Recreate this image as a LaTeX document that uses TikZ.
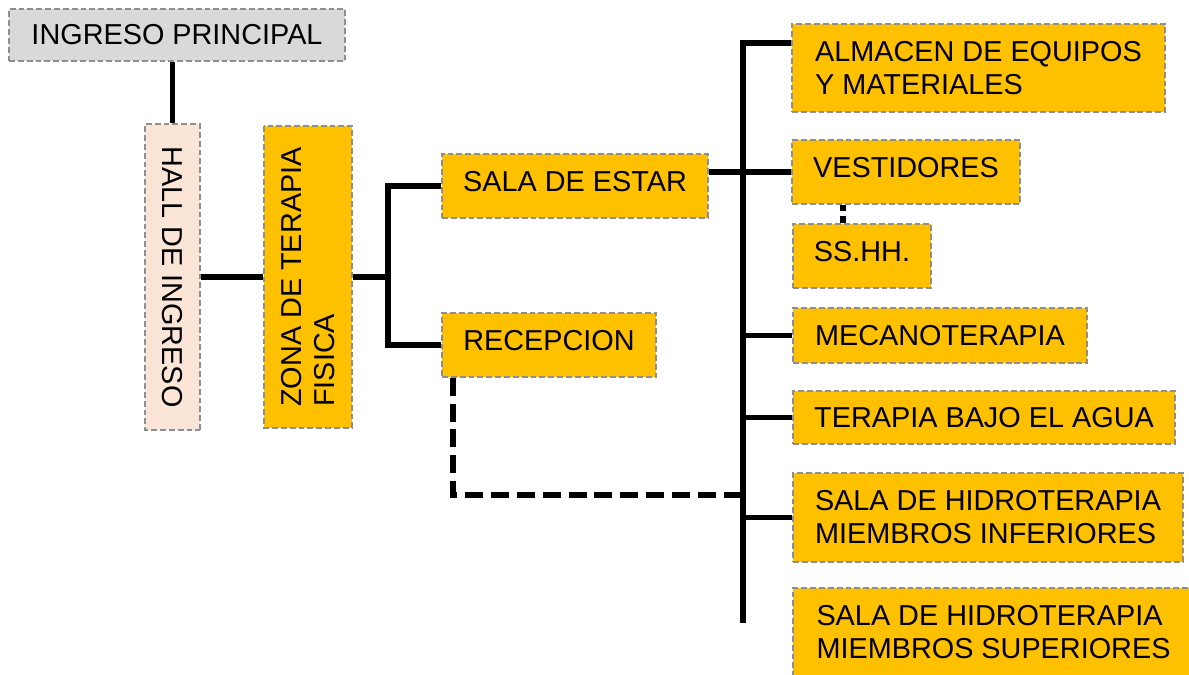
\documentclass[tikz,border=0pt]{standalone}
\usepackage{fontspec}
\setmainfont{Liberation Sans}
\usepackage{tikz}
\definecolor{naranja}{HTML}{FFC000}
\definecolor{salmon}{HTML}{FBE5D6}
\definecolor{gris}{HTML}{D9D9D9}
\definecolor{borde}{HTML}{8F8F8F}
\tikzset{amb/.style={rectangle,fill=naranja,draw=borde,line width=0.9pt,dash pattern=on 4.2pt off 2.1pt,inner sep=0pt,align=left,font=\fontsize{20.5}{23.4}\selectfont}}
\tikzset{alto/.style={minimum height=1.6cm,text depth=0.25cm}}
\tikzset{lin/.style={line width=4pt}}
\tikzset{lind/.style={line width=4pt,dash pattern=on 12.8pt off 5.6pt}}

\begin{document}
\begin{tikzpicture}[x=0.025cm,y=-0.025cm]
\clip (0,0) rectangle (1189,675);
% ingreso y zona
\node[amb,fill=gris,minimum width=8.4cm,minimum height=1.3cm] (ip) at (177,35) {INGRESO PRINCIPAL};
\node[amb,fill=salmon,rotate=-90,minimum width=7.65cm,minimum height=1.375cm] (hall) at (172.5,277) {HALL DE INGRESO};
\node[amb,rotate=90,minimum width=7.55cm,minimum height=2.2cm] (zona) at (308,277) {ZONA DE TERAPIA\\FISICA};
\node[amb,alto,minimum width=6.65cm] (sala) at (575,186) {SALA DE ESTAR};
\node[amb,alto,minimum width=5.35cm] (rec) at (549,345) {RECEPCION};
% ambientes
\node[amb,minimum width=9.325cm,minimum height=2.2cm] (alm) at (978.5,68) {ALMACEN DE EQUIPOS\\Y MATERIALES};
\node[amb,alto,minimum width=5.7cm] (vest) at (906,172) {VESTIDORES};
\node[amb,alto,minimum width=3.45cm] (ss) at (862,256) {SS.HH.};
\node[amb,minimum width=7.35cm,minimum height=1.375cm] (meca) at (940,335.5) {MECANOTERAPIA};
\node[amb,minimum width=9.55cm,minimum height=1.325cm] (agua) at (984,417.5) {TERAPIA BAJO EL AGUA};
\node[amb,minimum width=9.75cm,minimum height=2.225cm] (hinf) at (988,517.5) {SALA DE HIDROTERAPIA\\MIEMBROS INFERIORES};
\node[amb,minimum width=10.025cm,minimum height=2.225cm] (hsup) at (993.5,632.5) {SALA DE HIDROTERAPIA\\MIEMBROS SUPERIORES};

\coordinate (zj) at (388,277);
\coordinate (tt) at (743,43);
\coordinate (tb) at (743,623);
\coordinate (dc) at (453,495);

\draw[lin] (hall.center |- ip.south) -- (hall);
\draw[lin] (hall) -- (zona);
\draw[lin] (zona) -- (zj);
\draw[lin] (sala.west) -- (zj |- sala) -- (zj |- rec) -- (rec.west);
\draw[lin] (sala.east |- vest) -- (vest.west);
\draw[lin] (alm.west |- tt) -- (tt) -- (tb);
\draw[lin] (tt |- meca) -- (meca.west);
\draw[lin] (tt |- agua) -- (agua.west);
\draw[lin] (tt |- hinf) -- (hinf.west);
\draw[lind] (rec.south -| dc) -- (dc) -- (dc -| tt);
\draw[lin,dash pattern=on 5pt off 3.5pt] (ss.120) -- (ss.120 |- vest.south);
%\draw[lin] (tt |- hsup) -- (hsup.west);
\end{tikzpicture}
\end{document}
